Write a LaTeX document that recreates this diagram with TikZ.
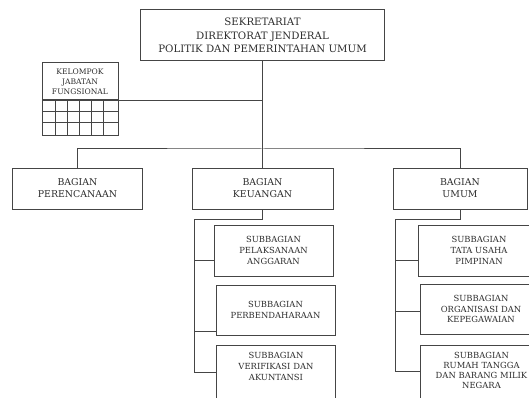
\documentclass[tikz,border=0pt]{standalone}
\usepackage{fontspec}
\setmainfont{DejaVu Serif}
\definecolor{ln}{HTML}{454545}
\definecolor{tx}{HTML}{2E2E2E}
\tikzset{
  box/.style={draw=ln, line width=1pt, text=tx, align=center, inner sep=0pt},
  conn/.style={draw=ln, line width=1pt},
  topfont/.style={font=\fontsize{10.2}{13.5}\selectfont},
  kjffont/.style={font=\fontsize{7.6}{10}\selectfont},
  bagfont/.style={font=\fontsize{9.4}{12}\selectfont},
  subfont/.style={font=\fontsize{8.4}{10.8}\selectfont},
  bagbox/.style={box, bagfont, minimum height=41pt},
  subbox/.style={box, subfont},
  cutbox/.style={box, subfont, anchor=north west, inner ysep=7pt, text depth=45pt},
}
\begin{document}
\begin{tikzpicture}[x=1pt,y=-1pt]
\clip (0,0) rectangle (529,398);
\fill[white] (0,0) rectangle (529,398);

% top
\node[box, topfont, minimum width=244pt, minimum height=51pt] (top) at (262.5,35.5)
  {SEKRETARIAT\\DIREKTORAT JENDERAL\\POLITIK DAN PEMERINTAHAN UMUM};

% kelompok jabatan fungsional
\node[box, kjffont, minimum width=76pt, minimum height=37pt] (kjf) at (80,81.5)
  {KELOMPOK\\JABATAN\\FUNGSIONAL};
\node[box, minimum width=76pt, minimum height=35pt, anchor=north] (grid) at (kjf.south) {};
\foreach \x in {55,67,79,91,103} \draw[conn] (\x,100) -- (\x,135);
\foreach \y in {111.5,123} \draw[conn] (42,\y) -- (118,\y);
\draw[conn] (kjf.south east) -- (kjf.south east -| top.south);

% bagian
\coordinate (bus) at (262.5,149);
\node[bagbox, minimum width=130pt] (per) at (77.5,188.5) {BAGIAN\\PERENCANAAN};
\node[bagbox, minimum width=141pt] (keu) at (262.5,188.5) {BAGIAN\\KEUANGAN};
\node[bagbox, minimum width=134pt] (umu) at (460,188.5) {BAGIAN\\UMUM};
\draw[conn] (top.south) -- (bus) -- (keu.north);
\draw[conn] (per.north) |- (bus) -| (umu.north);

% keuangan subs
\node[subbox, minimum width=119pt, minimum height=51pt] (ks1) at (273.5,250.5)
  {SUBBAGIAN\\PELAKSANAAN\\ANGGARAN};
\node[subbox, minimum width=119pt, minimum height=50pt] (ks2) at (275.5,310)
  {SUBBAGIAN\\PERBENDAHARAAN};
\node[cutbox, text width=119pt] (ks3) at (216,345)
  {SUBBAGIAN\\VERIFIKASI DAN\\AKUNTANSI};
\coordinate (kb) at (194,219);
\coordinate (k1) at (194,260);
\coordinate (k2) at (194,331);
\coordinate (k3) at (194,372);
\draw[conn] (keu.south) |- (kb) -- (k3) -- (k3 -| ks3.west);
\draw[conn] (k1) -- (k1 -| ks1.west);
\draw[conn] (k2) -- (k2 -| ks2.west);

% umum subs
\node[subbox, minimum width=122pt, minimum height=51pt] (us1) at (479,250.5)
  {SUBBAGIAN\\TATA USAHA\\PIMPINAN};
\node[subbox, minimum width=122pt, minimum height=50pt] (us2) at (481,309)
  {SUBBAGIAN\\ORGANISASI DAN\\KEPEGAWAIAN};
\node[cutbox, text width=122pt, font=\fontsize{8.4}{9.8}\selectfont] (us3) at (420,345)
  {SUBBAGIAN\\RUMAH TANGGA\\DAN BARANG MILIK\\NEGARA};
\coordinate (ub) at (395,219);
\coordinate (u1) at (395,260);
\coordinate (u2) at (395,311);
\coordinate (u3) at (395,371);
\draw[conn] (umu.south) |- (ub) -- (u3) -- (u3 -| us3.west);
\draw[conn] (u1) -- (u1 -| us1.west);
\draw[conn] (u2) -- (u2 -| us2.west);
\end{tikzpicture}
\end{document}
